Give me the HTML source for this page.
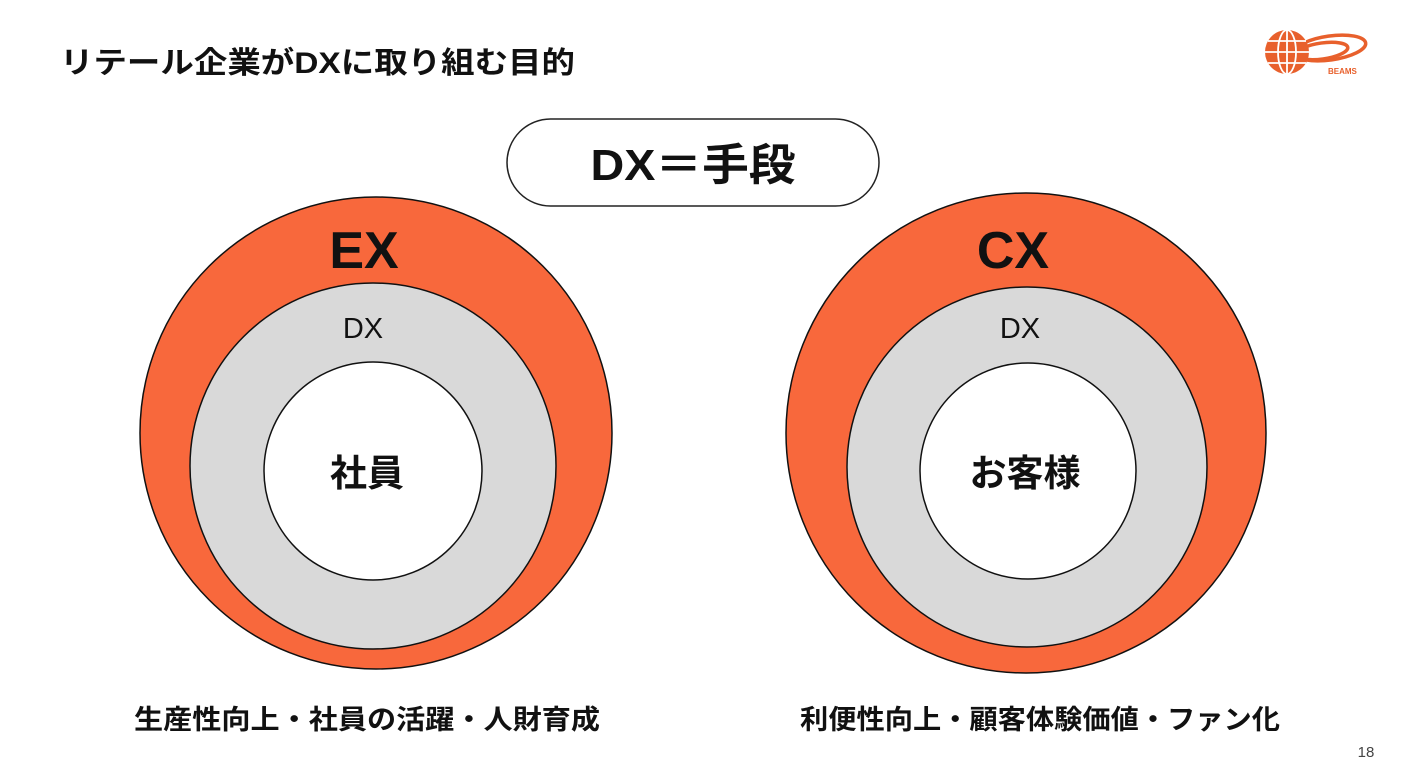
<!DOCTYPE html>
<html><head><meta charset="utf-8"><style>
body{margin:0;width:1401px;height:783px;background:#fff;overflow:hidden;position:relative;font-family:"Liberation Sans","Noto Sans CJK JP",sans-serif;}
</style></head><body>
<svg width="1401" height="783" style="position:absolute;left:0;top:0">
<g fill="none" stroke="#e8602c" stroke-width="3.5">
<ellipse cx="1330" cy="48" rx="36" ry="12" transform="rotate(-8 1330 48)"/>
<ellipse cx="1322" cy="51" rx="26" ry="8" transform="rotate(-8 1322 51)"/>
</g>
<circle cx="1287" cy="52" r="22" fill="#e8602c"/>
<g stroke="#fff" stroke-width="1.8" fill="none">
<ellipse cx="1287" cy="52" rx="9" ry="22"/><line x1="1287" y1="30" x2="1287" y2="74"/>
<line x1="1265" y1="52" x2="1309" y2="52"/><line x1="1268" y1="41" x2="1306" y2="41"/><line x1="1268" y1="63" x2="1306" y2="63"/>
</g>
<text x="1328" y="74" font-size="8" fill="#e8602c" font-family="Liberation Sans" font-weight="bold">BEAMS</text>
<rect x="507" y="119" width="372" height="87" rx="43.5" fill="#fff" stroke="#222" stroke-width="1.5"/>
<circle cx="376" cy="433" r="236" fill="#f8683c" stroke="#111" stroke-width="1.5"/>
<circle cx="373" cy="466" r="183" fill="#d9d9d9" stroke="#111" stroke-width="1.5"/>
<circle cx="373" cy="471" r="109" fill="#fff" stroke="#111" stroke-width="1.5"/>
<circle cx="1026" cy="433" r="240" fill="#f8683c" stroke="#111" stroke-width="1.5"/>
<circle cx="1027" cy="467" r="180" fill="#d9d9d9" stroke="#111" stroke-width="1.5"/>
<circle cx="1028" cy="471" r="108" fill="#fff" stroke="#111" stroke-width="1.5"/>
<g font-family="Liberation Sans, Noto Sans CJK JP, sans-serif" font-weight="bold" fill="#111">
<text x="60" y="73" font-size="30" textLength="515" lengthAdjust="spacingAndGlyphs">リテール企業がDXに取り組む目的</text>
<g text-anchor="middle">
<text x="693" y="180" font-size="44" textLength="205" lengthAdjust="spacingAndGlyphs">DX＝手段</text>
<text x="364" y="268" font-size="52">EX</text>
<text x="1013" y="268" font-size="52">CX</text>
<text x="363" y="338" font-size="29" font-weight="normal">DX</text>
<text x="1020" y="338" font-size="29" font-weight="normal">DX</text>
<text x="367" y="486" font-size="37">社員</text>
<text x="1025" y="486" font-size="37">お客様</text>
<text x="367" y="729" font-size="27" textLength="466" lengthAdjust="spacingAndGlyphs">生産性向上・社員の活躍・人財育成</text>
<text x="1040" y="729" font-size="27" textLength="480" lengthAdjust="spacingAndGlyphs">利便性向上・顧客体験価値・ファン化</text>
<text x="1366" y="757" font-size="15" font-weight="normal" fill="#444">18</text>
</g>
</g>
</svg>
</body></html>
